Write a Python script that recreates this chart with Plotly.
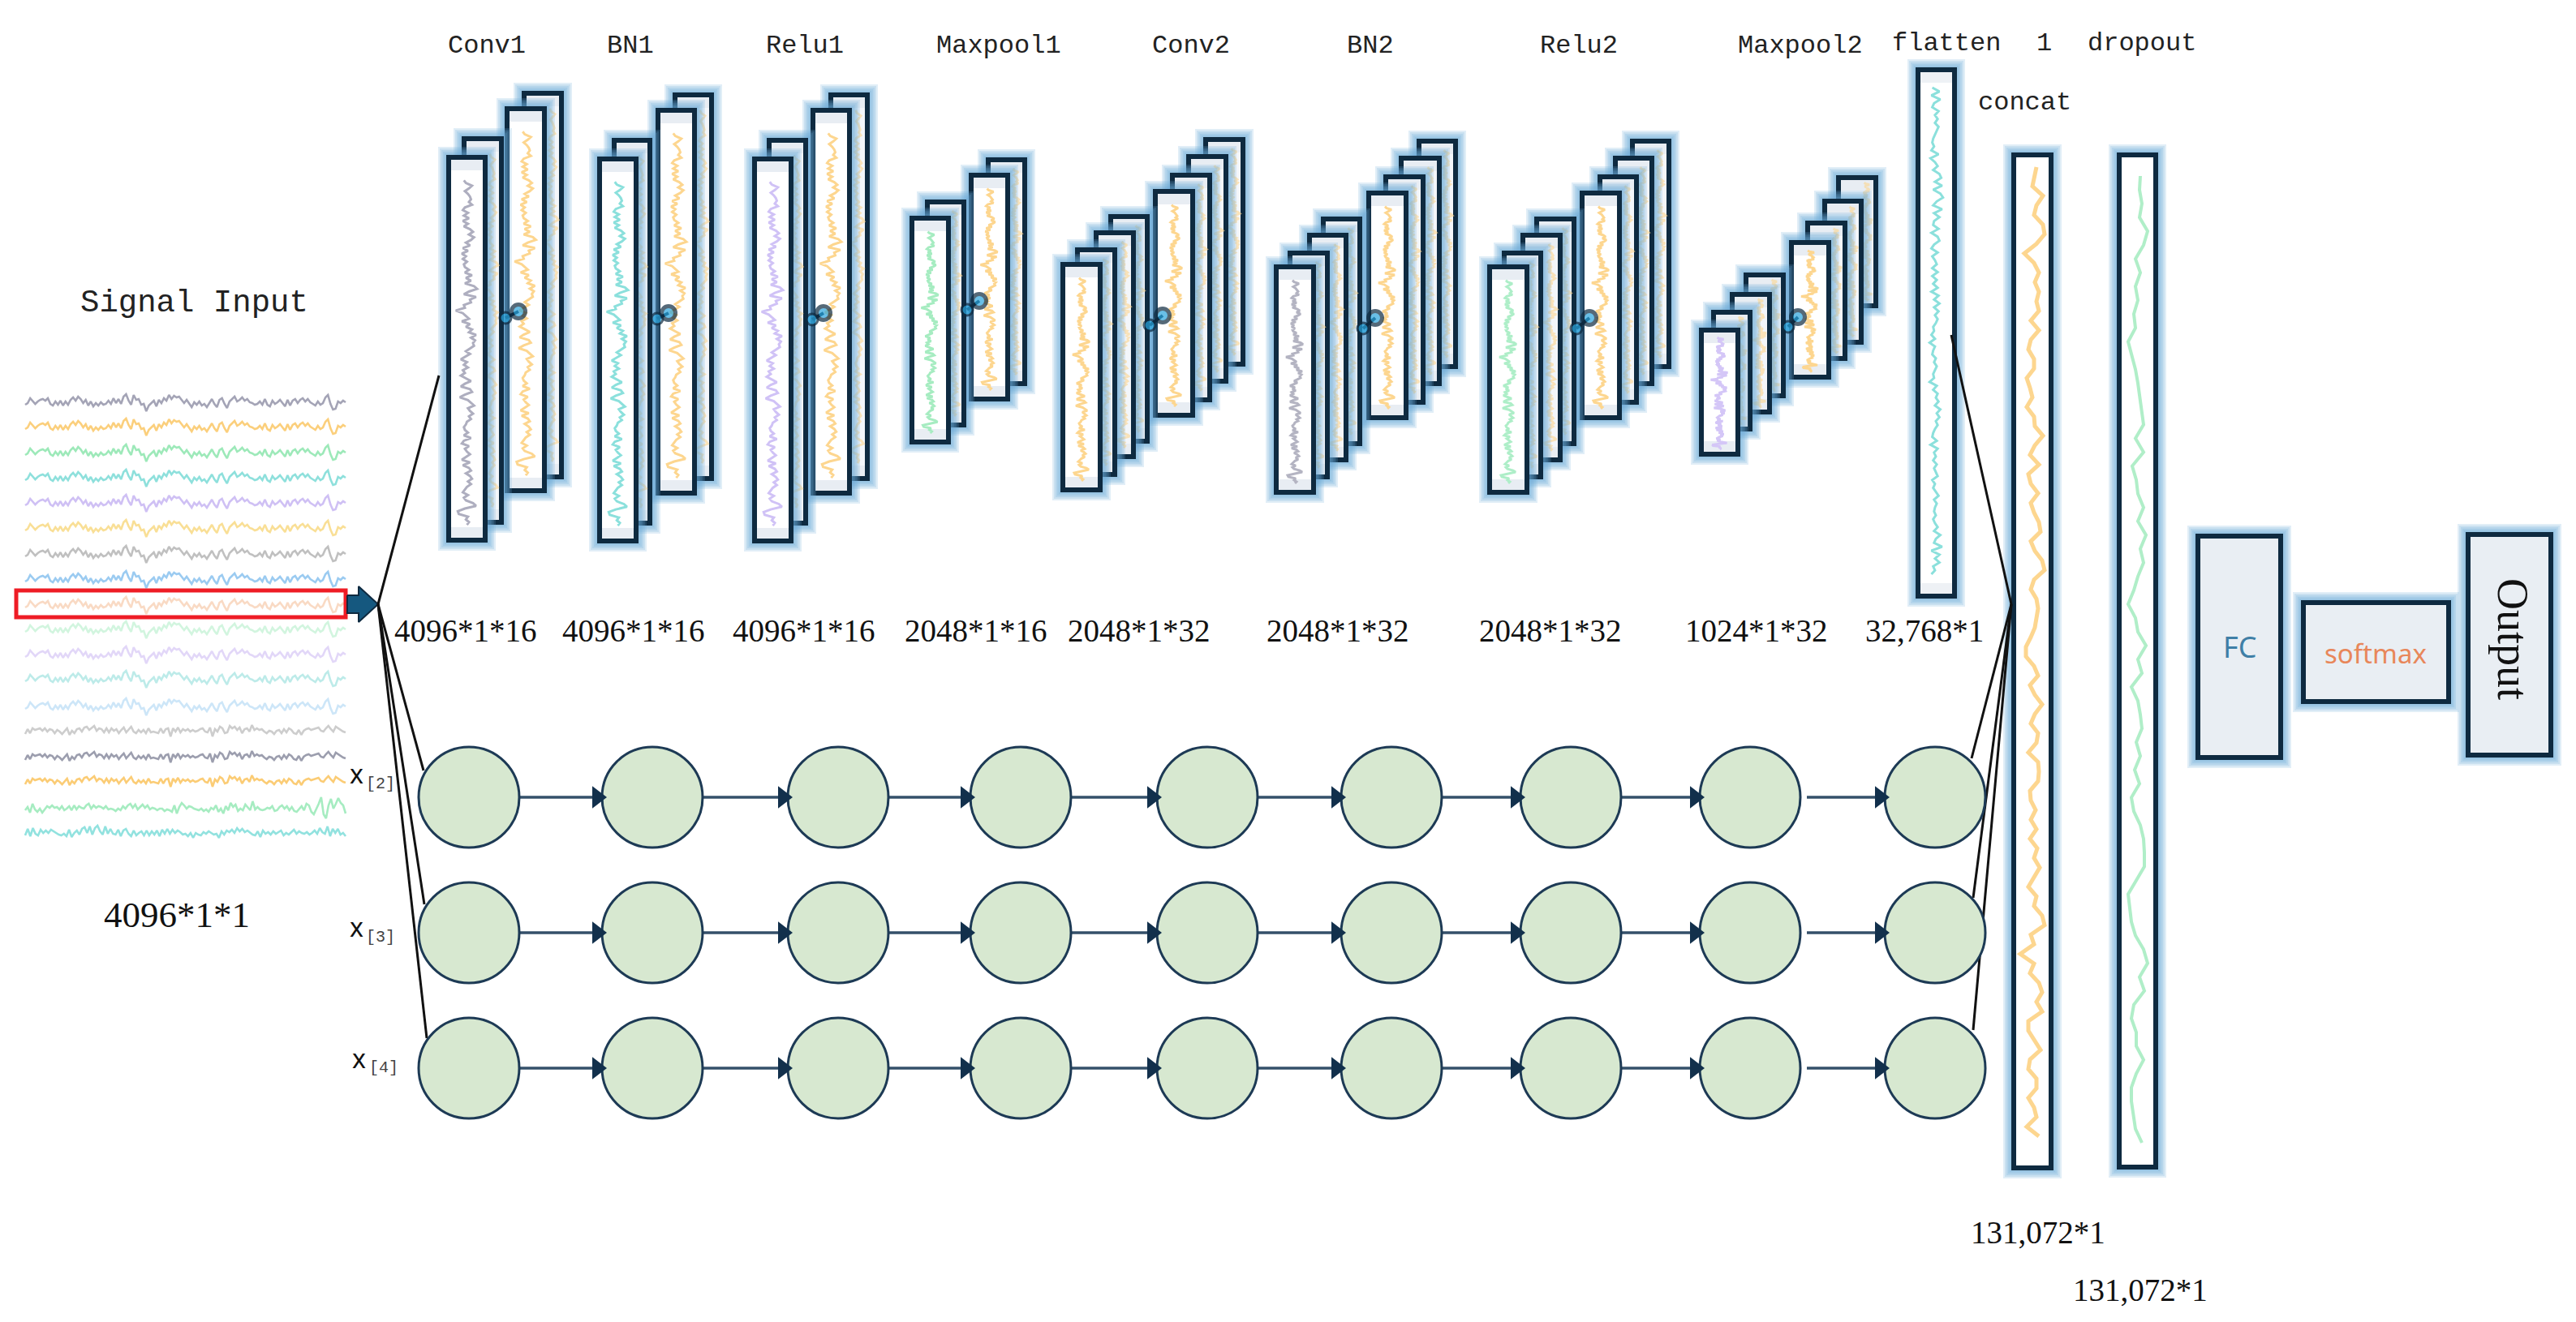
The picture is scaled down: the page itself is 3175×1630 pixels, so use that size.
"""
CNN + 3 branch network diagram, drawn in pixel coordinates of the 3175x1630 picture
"""

import plotly.graph_objects as go

# ---- text ----
layer_names = ["Conv1", "BN1", "Relu1", "Maxpool1", "Conv2", "BN2", "Relu2", "Maxpool2", "flatten", "1", "dropout", "concat"]
shape_names = ["4096*1*16", "4096*1*16", "4096*1*16", "2048*1*16", "2048*1*32", "2048*1*32", "2048*1*32", "1024*1*32", "32,768*1"]
branch_names = ["[2]", "[3]", "[4]"]

# ---- signals (px offset from the strip centre line) ----
signal_a = [-3,-1,5,2,-2,1,3,4,2,5,-2,-4,1,-3,2,-4,1,-3,3,6,2,7,4,-1,3,-4,1,-5,-1,-4,0,-3,-2,2,-2,5,-1,4,-2,7,10,2,-3,9,3,4,-3,-2,-11,-4,-1,2,-5,3,-1,5,2,9,4,8,6,7,3,-1,3,-2,-6,0,-3,1,-4,-2,-6,-1,4,-2,-6,3,5,-2,-7,1,4,7,1,3,6,2,4,0,-1,-3,-2,1,-3,4,-3,-5,2,-2,0,3,-1,-5,3,-4,2,4,-1,3,5,1,4,0,-2,-4,1,-3,-1,6,9,-2,-9,-8,1,-1,2,0]
signal_b = [-4,2,-3,3,1,2,3,0,3,-1,2,1,-3,1,-1,-4,-1,3,-5,0,-3,2,3,-1,4,5,1,4,6,0,3,2,-2,3,-2,3,0,2,-3,1,4,-2,2,5,-1,-3,1,-2,1,-3,3,-2,-1,-2,-3,3,-3,2,3,-7,3,-1,4,-2,2,0,2,-1,1,-1,0,2,3,-1,-2,4,-7,2,-1,5,3,-3,-2,6,3,5,1,4,-3,2,3,-1,7,1,3,1,2,-1,-3,0,-1,-4,0,1,-3,2,-2,3,1,-3,-4,1,-5,0,2,3,1,2,3,4,0,-1,3,6,2,-1,5,3,1,-1,-2]
signal_c = [-3,1,-6,5,-2,-5,-1,-6,-2,2,0,3,0,1,-2,2,-3,-1,2,-3,3,-2,2,0,-1,3,5,-1,3,0,2,1,-1,2,-2,-1,-2,-4,-1,-3,2,-1,3,5,0,4,-2,1,4,0,3,-2,0,-1,-3,-1,-1,-4,-2,-3,-5,3,-7,1,6,3,-1,2,1,-1,-2,-3,-1,-4,-2,-5,0,-2,3,-5,-1,-7,2,-3,6,1,4,-4,-1,-3,4,0,-3,8,-2,1,-2,-3,-2,0,-1,2,-4,-3,1,3,-1,2,-3,1,-4,-5,-2,2,-3,5,3,-5,-8,-2,5,13,-8,-13,3,11,-1,5,12,6,3,-7]
signal_d = [-4,4,-5,5,-2,-4,3,-1,2,-1,3,1,-1,-3,-4,-2,-5,3,-6,-1,2,-3,4,6,-1,7,-3,5,8,1,-3,7,-2,4,-2,-3,3,-5,2,4,-2,-5,2,-4,-1,1,-4,2,-4,1,-3,2,-5,3,-2,4,-2,3,-1,2,0,-3,-2,-5,-1,-7,-1,-3,-4,0,-2,1,-1,-3,-2,-7,1,-3,2,0,3,-1,5,1,4,0,2,-1,-3,-4,1,-6,2,-2,0,-3,1,-2,0,2,-4,-1,-3,0,3,-2,1,-1,-2,0,-3,-1,2,-2,5,0,-2,7,-5,4,-1,4,-3,-1,-5]
concat_signal = [5,2,0,13,5,2,13,15,5,-10,2,8,3,8,5,8,-2,8,-2,-5,2,2,-7,-3,0,-7,2,3,13,3,-3,8,-5,-2,7,-2,2,8,10,-2,3,12,15,2,-2,5,7,5,3,-2,-8,-8,2,7,-3,3,12,3,-2,7,5,-5,7,8,7,-3,-2,4,-2,5,-3,6,2,9,2,-5,5,2,12,15,-2,2,-15,2,-3,8,12,5,12,-5,-5,2,10,-3,-5,5,5,-5,2,5,-7,8]
dropout_signal = [3,2,5,2,12,7,-3,3,-3,0,-5,-3,-12,-7,-3,0,2,5,7,-3,7,-7,-2,0,7,0,10,3,7,0,-5,-12,-3,0,10,0,5,-8,0,3,5,-2,3,-4,2,-8,-5,3,7,8,8,-2,-12,-10,-8,-3,7,12,2,8,-5,-8,-2,-2,7,-2,-8,-8,-5,-3,5]

input_signals = [signal_a]*13 + [signal_b, signal_b, signal_b, signal_c, signal_d]
input_colors = ["#a4a4b6", "#fbcf7c", "#9de9b9", "#8ee0dc", "#cfc0f4", "#f9df96", "#c0c0c0", "#9bcbf1", "#f9dac4", "#d2f5df", "#e2d7f8", "#bdebe9", "#cde6f8", "#cdcdcd", "#9c9eae", "#fbcc75", "#a6ecc1", "#92e2df"]
input_y = [496, 526, 558, 589, 620, 651, 683, 714, 746, 776, 807, 837, 871, 901, 933, 963, 996, 1026]

# ---- layout of the blocks, front box first (x0, x1, y0, y1) ----
y_two = [(196,667), (173,645), (136,608), (117,590)]
y_bn2 = [(329,607), (312,588), (290,567), (270,547), (238,515), (218,496), (195,473), (174,452)]
stacks = [
	dict(color = "#aeaebf", dots = [(623,392), (639,384)], boxes = [(553,598,194,666), (572,618,171,644), (625,671,134,605), (646,692,115,588)]),
	dict(color = "#8be0dc", dots = [(810,393), (824,386)], boxes = [(x0,x1,)+y for (x0,x1),y in zip([(739,784),(757,801),(811,856),(832,877)], y_two)]),
	dict(color = "#d0c2f6", dots = [(1001,394), (1015,386)], boxes = [(x0,x1,)+y for (x0,x1),y in zip([(930,975),(948,993),(1002,1047),(1024,1069)], y_two)]),
	dict(color = "#a6ecc1", dots = [(1192,382), (1207,371)], boxes = [(1124,1169,269,545), (1143,1188,249,524), (1197,1242,216,492), (1218,1263,197,473)]),
	dict(color = "#fdd68f", dots = [(1417,401), (1433,389)], boxes = [(1310,1356,326,604), (1328,1374,308,585), (1351,1397,287,563), (1369,1414,267,544), (1424,1470,236,512), (1445,1491,216,493), (1465,1511,193,470), (1486,1532,172,449)]),
	dict(color = "#b4b4c2", dots = [(1680,405), (1695,392)], boxes = [(x0,x1,)+y for (x0,x1),y in zip([(1573,1619),(1590,1636),(1614,1659),(1631,1676),(1687,1733),(1708,1754),(1727,1774),(1749,1794)], y_bn2)]),
	dict(color = "#aeeec8", dots = [(1943,405), (1959,392)], boxes = [(x0,x1,)+y for (x0,x1),y in zip([(1836,1882),(1854,1899),(1877,1923),(1894,1940),(1950,1996),(1972,2017),(1991,2036),(2012,2057)], y_bn2)]),
	dict(color = "#d4c6f7", dots = [(2204,403), (2216,391)], boxes = [(2097,2142,407,560), (2112,2157,385,529), (2135,2181,363,508), (2152,2198,339,488), (2208,2254,299,465), (2228,2274,275,442), (2249,2294,248,422), (2266,2312,219,377)]),
]
circle_x = [578, 804, 1033, 1258, 1488, 1715, 1936, 2157, 2385]
circle_y = [983, 1150, 1317]
circle_r = 62

NAVY = "#0e2a40"
ORANGE = "#fdd68f"

fig = go.Figure()


def add_poly(xs, ys, fill = None, line = None, width = 0):
	fig.add_trace(go.Scatter(
		x = xs, y = ys, mode = "lines", fill = "toself" if fill else "none", fillcolor = fill,
		line = dict(color = line or "rgba(0,0,0,0)", width = width),
		hoverinfo = "skip", showlegend = False
		))


def add_box(x0, x1, y0, y1, fill = "#ffffff", band = None):
	# soft blue glow, a few see-through layers
	for pad in (13, 11, 9, 7, 5):
		add_poly([x0-pad, x1+pad, x1+pad, x0-pad, x0-pad], [y0-pad, y0-pad, y1+pad, y1+pad, y0-pad], fill = "rgba(105,170,215,0.2)")
	add_poly([x0, x1, x1, x0, x0], [y0, y0, y1, y1, y0], fill = fill)
	if band:
		add_poly([x0, x1, x1, x0, x0], [y0, y0, y0+16, y0+16, y0], fill = band)
		add_poly([x0, x1, x1, x0, x0], [y1-16, y1-16, y1, y1, y1-16], fill = band)
	add_poly([x0, x1, x1, x0, x0, x1], [y0, y0, y1, y1, y0, y0], line = NAVY, width = 6)


def add_vertical_signal(signal, xc, y0, y1, color, scale = 1.0, width = 3, opacity = 1.0):
	step = (y1 - y0) / (len(signal) - 1)
	fig.add_trace(go.Scatter(
		x = [xc + v*scale for v in signal], y = [y0 + i*step for i in range(len(signal))],
		mode = "lines", line = dict(color = color, width = width), opacity = opacity,
		hoverinfo = "skip", showlegend = False
		))


def add_line(x0, y0, x1, y1, color = "#111111", width = 3):
	add_poly([x0, x1], [y0, y1], line = color, width = width)


# input signals on the left
for signal, color, yc in zip(input_signals, input_colors, input_y):
	step = (426 - 31) / (len(signal) - 1)
	fig.add_trace(go.Scatter(
		x = [31 + i*step for i in range(len(signal))], y = [yc - v for v in signal],
		mode = "lines", line = dict(color = color, width = 2.6),
		hoverinfo = "skip", showlegend = False
		))

add_poly([20, 426, 426, 20, 20, 426], [728, 728, 761, 761, 728, 728], line = "#ee1c25", width = 5)
add_poly([428, 442, 442, 466, 442, 442, 428, 428], [734, 734, 723, 745, 767, 756, 756, 734], fill = "#15587f", line = NAVY, width = 2)

# conv stacks, back box first so the front ones cover them
for stack in stacks:
	boxes = stack["boxes"]
	group_front = len(boxes) // 2
	for i in reversed(range(len(boxes))):
		x0, x1, y0, y1 = boxes[i]
		h = y1 - y0
		scale = 1.25 if h > 400 else 1.0
		is_front = i == 0 or i == group_front
		add_box(x0, x1, y0, y1, fill = "#ffffff" if is_front else "#f3f6fa", band = "#e8edf3")
		if is_front:
			add_vertical_signal(signal_a, (x0+x1)/2, y0 + 0.06*h, y1 - 0.04*h, stack["color"] if i == 0 else ORANGE, scale = scale)
		else:
			add_vertical_signal(signal_a, x1 - 12, y0 + 0.04*h, y1 - 0.04*h, ORANGE, scale = 0.8, opacity = 0.6)
	(ax, ay), (bx, by) = stack["dots"]
	add_line(ax, ay, bx, by, color = NAVY, width = 4)
	fig.add_trace(go.Scatter(
		x = [ax, bx], y = [ay, by], mode = "markers",
		marker = dict(size = [14, 17], color = "#2aa5dd", line = dict(color = NAVY, width = [3, 5])),
		hoverinfo = "skip", showlegend = False
		))

# flatten, concat, dropout columns
add_box(2364, 2409, 86, 735, band = "#eef1f5")
add_vertical_signal(signal_d, 2386, 108, 708, "#8be0dc", scale = 1.1)
add_box(2482, 2528, 191, 1440)
add_vertical_signal(concat_signal, 2505, 206, 1401, ORANGE, width = 5)
add_box(2612, 2657, 191, 1439)
add_vertical_signal(dropout_signal, 2635, 217, 1409, "#b0eec8", width = 4)

# FC, softmax, output
add_box(2709, 2811, 661, 934, fill = "#e9eef3")
add_box(2839, 3018, 743, 865, fill = "#e9eef3")
add_box(3042, 3144, 659, 931, fill = "#e9eef3")

# fan lines, under the circles
for x1, y1 in [(541, 463), (522, 950), (523, 1115), (526, 1280)]:
	add_line(466, 745, x1, y1)
for x1, y1 in [(2405, 413), (2430, 935), (2432, 1107), (2432, 1270)]:
	add_line(2479, 745, x1, y1)

# green circles with arrows between them
for yc in circle_y:
	for i in range(len(circle_x) - 1):
		start = circle_x[i] + circle_r - 4
		if i == len(circle_x) - 2:
			start = circle_x[i] + circle_r + 8
		add_line(start, yc, circle_x[i+1] - circle_r + 3, yc, color = "#34506a", width = 3.5)

xs = [x for yc in circle_y for x in circle_x]
ys = [yc for yc in circle_y for x in circle_x]
fig.add_trace(go.Scatter(
	x = xs, y = ys, mode = "markers",
	marker = dict(size = 2*circle_r, color = "#d7e8d0", line = dict(color = "#1d3a55", width = 3)),
	hoverinfo = "skip", showlegend = False
	))
fig.add_trace(go.Scatter(
	x = [x - circle_r - 6 for yc in circle_y for x in circle_x[1:]],
	y = [yc for yc in circle_y for x in circle_x[1:]],
	mode = "markers", marker = dict(symbol = "triangle-right", size = 24, color = "#12304c"),
	hoverinfo = "skip", showlegend = False
	))


def add_text(text, x, y, family, size, color = "#222222", angle = 0):
	fig.add_annotation(
		x = x, y = y, text = text, showarrow = False, textangle = angle,
		font = dict(family = family, size = size, color = color),
		xanchor = "center", yanchor = "middle"
		)


MONO = "Liberation Mono"
SERIF = "Liberation Serif"
SANS = "Noto Sans"

label_x = [600, 777, 992, 1231, 1468, 1689, 1946, 2219, 2399, 2519, 2640, 2495]
label_y = [56, 56, 56, 56, 56, 56, 56, 56, 53, 53, 53, 126]
for name, x, y in zip(layer_names, label_x, label_y):
	add_text(name, x, y, MONO, 32)

shape_x = [574, 781, 991, 1203, 1404, 1649, 1911, 2165, 2372]
for name, x in zip(shape_names, shape_x):
	add_text(name, x, 777, SERIF, 39, color = "#111111")

add_text("Signal Input", 239, 374, MONO, 39)
add_text("4096*1*1", 218, 1128, SERIF, 45, color = "#111111")
add_text("131,072*1", 2512, 1519, SERIF, 39, color = "#111111")
add_text("131,072*1", 2638, 1590, SERIF, 39, color = "#111111")

for name, x, y, sx, sy in zip(branch_names, [439, 439, 442], [953, 1142, 1304], [469, 469, 473], [966, 1155, 1316]):
	add_text("x", x, y, SANS, 32, color = "#111111")
	add_text(name, sx, sy, MONO, 20, color = "#444444")

add_text("FC", 2760, 797, SANS, 36, color = "#3f7fa6")
add_text("softmax", 2928, 805, SANS, 33, color = "#e8875a")
add_text("Output", 3097, 788, SERIF, 54, color = "#111111", angle = 90)

# page body has an 8px margin, so the plot starts at picture pixel 8
fig.update_layout(
	width = 3167, height = 1622,
	margin = dict(l = 0, r = 0, t = 0, b = 0),
	paper_bgcolor = "white", plot_bgcolor = "white",
	showlegend = False,
	xaxis = dict(range = [8, 3175], visible = False, fixedrange = True),
	yaxis = dict(range = [1630, 8], visible = False, fixedrange = True)
	)

fig.write_html("out.html")
